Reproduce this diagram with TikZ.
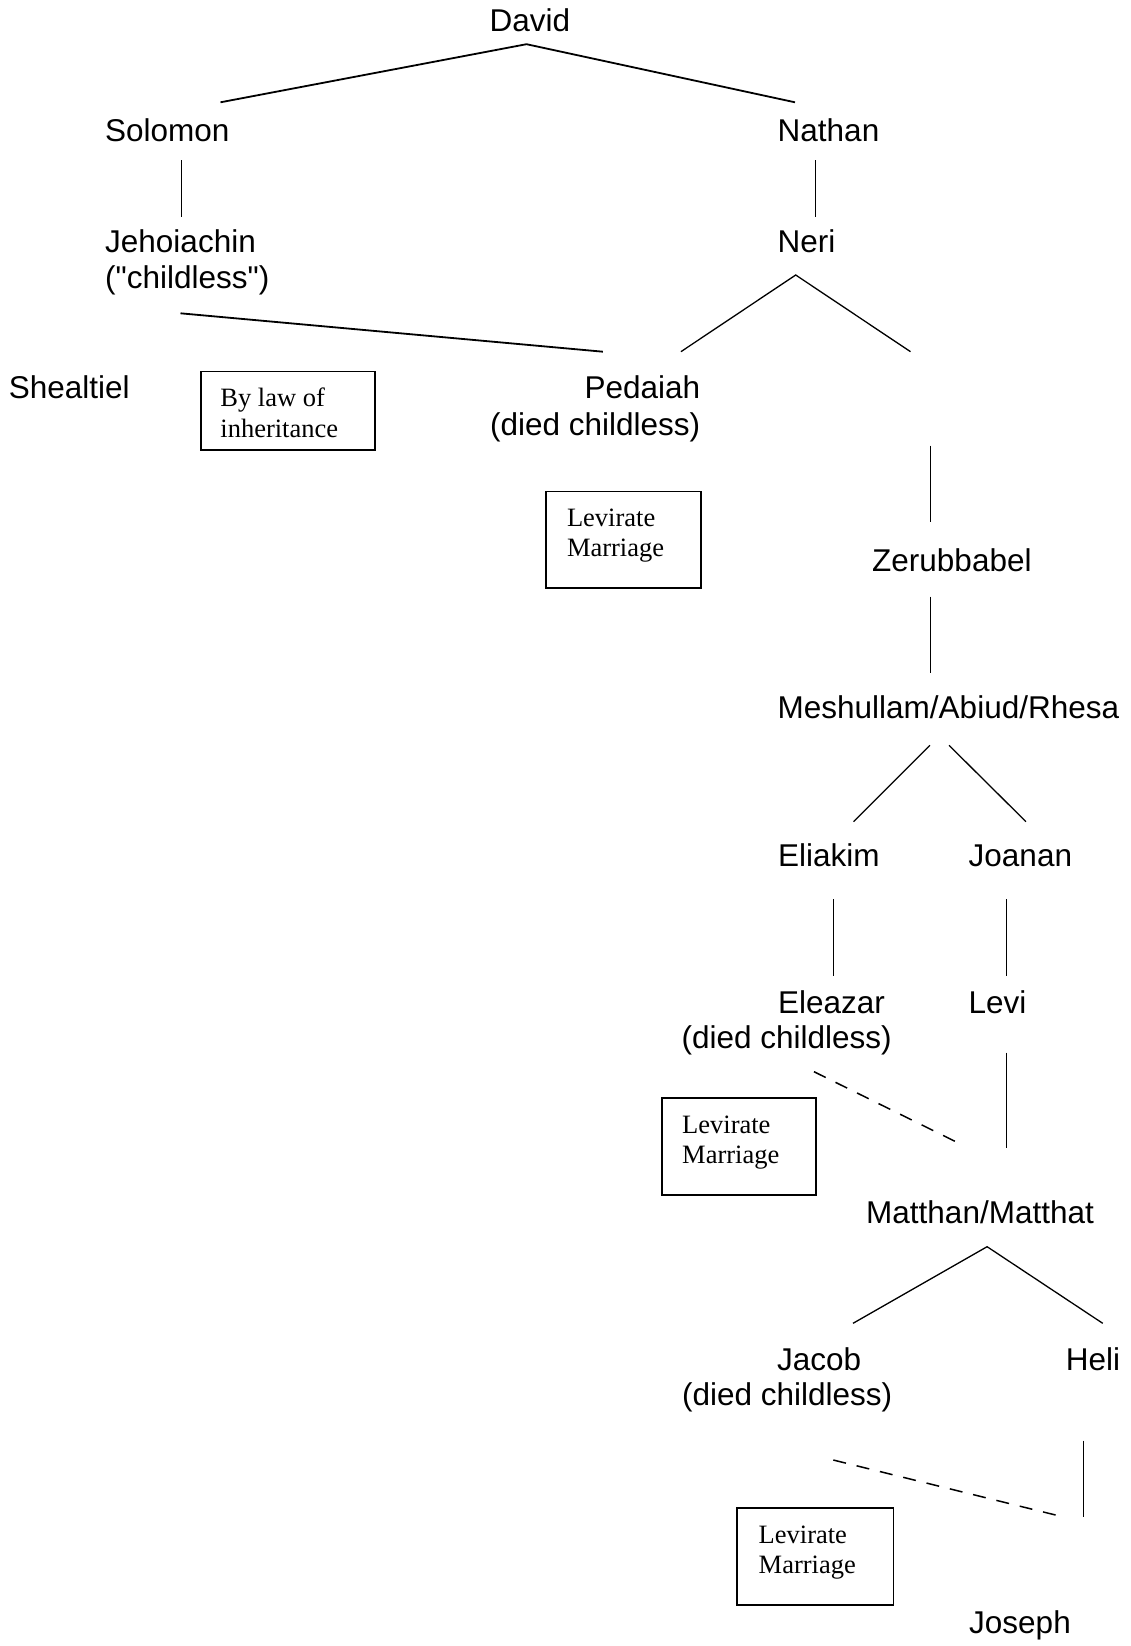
\documentclass[tikz,border=0pt]{standalone}
\usepackage{fontspec}
\setmainfont{Liberation Sans}
\newfontfamily\boxfont{Liberation Serif}
\newfontfamily\straightfont{Liberation Sans}[Ligatures=TeXOff]
\begin{document}
\begin{tikzpicture}[x=1pt,y=-1pt,
  person/.style={anchor=base west, inner sep=0pt, font=\fontsize{31.5}{36}\selectfont},
  personr/.style={person, anchor=base east},
  notetext/.style={anchor=base west, inner sep=0pt, font=\boxfont\fontsize{26.5}{30}\selectfont},
  notebox/.style={draw, line width=1.6pt, inner sep=0pt, anchor=north west},
  thickbranch/.style={line width=1.8pt},
  branch/.style={line width=1.3pt},
  stem/.style={line width=1pt},
  levirate/.style={line width=1.5pt, dash pattern=on 13pt off 11pt}]
\useasboundingbox (0,0) rectangle (1131,1646);

% ---- people ----
\node[person] (david) at (489.5,31.7) {David};
\node[person] (solomon) at (105,141.7) {Solomon};
\node[person] (nathan) at (777.5,141.7) {Nathan};
\node[person] (jehoiachin) at (105,252.3) {Jehoiachin};
\node[person] (jehoiachinnote) at (105,288.3) {\straightfont("childless")};
\node[person] (neri) at (777.5,252.3) {Neri};
\node[person] (shealtiel) at (8.7,398.3) {Shealtiel};
\node[personr] (pedaiah) at (700.4,398.3) {Pedaiah};
\node[personr] (pedaiahnote) at (700.4,435) {(died childless)};
\node[person] (zerubbabel) at (872,571.7) {Zerubbabel};
\node[person] (meshullam) at (777.5,718.3) {Meshullam/Abiud/Rhesa};
\node[person] (eliakim) at (777.8,866.7) {Eliakim};
\node[person] (joanan) at (968.5,866.7) {Joanan};
\node[person] (eleazar) at (777.8,1013.3) {Eleazar};
\node[person] (eleazarnote) at (681.5,1048.3) {(died childless)};
\node[person] (levi) at (968.5,1013.3) {Levi};
\node[person] (matthan) at (866,1223.3) {Matthan/Matthat};
\node[person] (jacob) at (777,1370) {Jacob};
\node[person] (jacobnote) at (682,1405) {(died childless)};
\node[person] (heli) at (1065.6,1370) {Heli};
\node[person] (joseph) at (969,1633.3) {Joseph};

% ---- note boxes ----
\node[notebox, minimum width=174pt, minimum height=78.7pt] (lawbox) at (200,370.7) {};
\node[notetext] (lawa) at (220.2,406.7) {By law of};
\node[notetext] (lawb) at (220.2,437.3) {inheritance};

\node[notebox, minimum width=155.4pt, minimum height=96.6pt] (levbox1) at (545,490.7) {};
\node[notetext] (lev1a) at (566.8,526.7) {Levirate};
\node[notetext] (lev1b) at (566.8,556.7) {Marriage};

\node[notebox, minimum width=154.2pt, minimum height=97pt] (levbox2) at (661,1097) {};
\node[notetext] (lev2a) at (682,1133.3) {Levirate};
\node[notetext] (lev2b) at (682,1163.3) {Marriage};

\node[notebox, minimum width=156.2pt, minimum height=96.7pt] (levbox3) at (736.3,1507.3) {};
\node[notetext] (lev3a) at (758.5,1543.3) {Levirate};
\node[notetext] (lev3b) at (758.5,1573.3) {Marriage};

% ---- connector end points ----
\coordinate (davidfork) at (526.5,44.2);
\coordinate (solomonin) at (220.5,102.3);
\coordinate (nathanin) at (795,102.3);
\coordinate (solomonout) at (181,160);
\coordinate (jehoiachinin) at (181,217.3);
\coordinate (nathanout) at (815.2,160);
\coordinate (neriin) at (815.2,217.3);
\coordinate (jehoiachinout) at (180.5,313.3);
\coordinate (pedaiahin) at (602.9,351.7);
\coordinate (nerifork) at (795.7,275);
\coordinate (nerileft) at (680.9,351.7);
\coordinate (neriright) at (910.5,351.7);
\coordinate (zerubtop) at (930,445.7);
\coordinate (zerubin) at (930,521.7);
\coordinate (zerubout) at (930,596.7);
\coordinate (meshin) at (930,673.3);
\coordinate (meshforkl) at (930,745.3);
\coordinate (meshforkr) at (949,745.3);
\coordinate (eliakimin) at (853.5,821.7);
\coordinate (joananin) at (1026,821.7);
\coordinate (eliakimout) at (833.3,899.3);
\coordinate (eleazarin) at (833.3,975.7);
\coordinate (joananout) at (1006.4,899.3);
\coordinate (leviin) at (1006.4,975.7);
\coordinate (eleazarout) at (814,1071.7);
\coordinate (matthanlev) at (959,1143.3);
\coordinate (leviout) at (1006.4,1052.7);
\coordinate (matthanin) at (1006.4,1147.7);
\coordinate (matthanfork) at (987.1,1246.7);
\coordinate (jacobin) at (853,1323.3);
\coordinate (heliin) at (1102.7,1323.3);
\coordinate (heliout) at (1083.3,1440.7);
\coordinate (josephin) at (1083.3,1516.7);
\coordinate (jacobout) at (833.3,1460);
\coordinate (josephlev) at (1062.4,1516.7);

% ---- connectors ----
\draw[thickbranch] (solomonin) -- (davidfork) -- (nathanin);
\draw[stem] (solomonout) -- (jehoiachinin);
\draw[stem] (nathanout) -- (neriin);
\draw[thickbranch] (jehoiachinout) -- (pedaiahin);
\draw[branch] (nerileft) -- (nerifork) -- (neriright);
\draw[stem] (zerubtop) -- (zerubin);
\draw[stem] (zerubout) -- (meshin);
\draw[branch] (meshforkl) -- (eliakimin);
\draw[branch] (meshforkr) -- (joananin);
\draw[stem] (eliakimout) -- (eleazarin);
\draw[stem] (joananout) -- (leviin);
\draw[levirate] (eleazarout) -- (matthanlev);
\draw[stem] (leviout) -- (matthanin);
\draw[branch] (jacobin) -- (matthanfork) -- (heliin);
\draw[stem] (heliout) -- (josephin);
\draw[levirate] (jacobout) -- (josephlev);
\end{tikzpicture}
\end{document}
